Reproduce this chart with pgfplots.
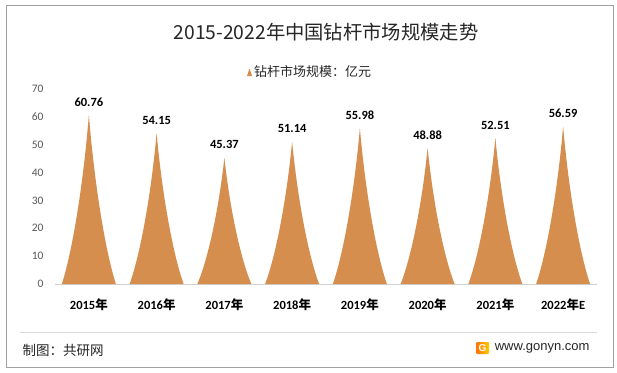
\documentclass[border=0pt]{standalone}
\usepackage{pgfplots}
\pgfplotsset{compat=1.18}
\usepackage{pgfplotstable}
\usepackage{fontspec}
\setmainfont{Carlito}
\newfontfamily\cjk{Noto Sans CJK SC}
\newfontfamily\lib{Liberation Sans}
\definecolor{barorange}{RGB}{214,142,79}
\definecolor{framegray}{RGB}{160,160,160}
\definecolor{ticktext}{RGB}{89,89,89}

\pgfplotstableread{
x y label
0 60.76 60.76
1 54.15 54.15
2 45.37 45.37
3 51.14 51.14
4 55.98 55.98
5 48.88 48.88
6 52.51 52.51
7 56.59 56.59
}\datatable

\pgfdeclareplotmark{spike}{%
  \pgfmathsetmacro\hh{\rawy*195/70}%
  \pgfmathsetmacro\ha{0.8*\hh}%
  \pgfmathsetmacro\hb{0.4*\hh}%
  \pgfpathmoveto{\pgfpoint{-27pt}{-\hh pt}}%
  \pgfpathcurveto{\pgfpoint{-16.2pt}{-\ha pt}}{\pgfpoint{-5.4pt}{-\hb pt}}{\pgfpoint{0pt}{0pt}}%
  \pgfpathcurveto{\pgfpoint{5.4pt}{-\hb pt}}{\pgfpoint{16.2pt}{-\ha pt}}{\pgfpoint{27pt}{-\hh pt}}%
  \pgfpathclose
  \pgfusepathqfill
}

\begin{document}
\begin{tikzpicture}
\useasboundingbox (0pt,0pt) rectangle (617pt,372pt);
\fill[white] (0pt,0pt) rectangle (617pt,372pt);
\draw[framegray, line width=0.8pt] (6pt,5pt) rectangle (613pt,367pt);

\node[font=\cjk\fontsize{19.3}{22}\selectfont, text=black!85] at (326pt,340pt) {2015-2022年中国钻杆市场规模走势};

\begin{axis}[
  at={(55pt,88pt)}, anchor=south west,
  scale only axis, width=542pt, height=195pt,
  xmin=-0.5, xmax=7.5, ymin=0, ymax=70,
  ytick={0,10,...,70},
  xtick={0,1,...,7},
  xticklabels={2015{\cjk 年},2016{\cjk 年},2017{\cjk 年},2018{\cjk 年},2019{\cjk 年},2020{\cjk 年},2021{\cjk 年},2022{\cjk 年}E},
  axis lines*=left,
  y axis line style={draw=none},
  x axis line style={draw=black!18, line width=0.9pt},
  major tick length=0pt,
  /pgf/number format/assume math mode=true,
  yticklabel style={font=\fontsize{11.5}{13}\selectfont, text=ticktext, xshift=-8pt},
  xticklabel style={font=\bfseries\fontsize{12.5}{14}\selectfont, text=black, yshift=-11pt},
  clip=false,
  legend style={at={(0.4705,1.087)}, anchor=center, draw=none, fill=none,
    font=\cjk\fontsize{13}{15}\selectfont, text=black!85,
    /tikz/every even column/.append style={column sep=0pt}},
  legend cell align=left,
]
\addplot[only marks, mark=spike, draw=none, fill=barorange,
  visualization depends on={\thisrow{y}\as\rawy},
  point meta=explicit symbolic,
  nodes near coords,
  every node near coord/.append style={font=\bfseries\fontsize{12.5}{14}\selectfont, text=black, anchor=south, yshift=5pt},
  legend image code/.code={\fill[barorange] (0pt,-4pt) -- (2.6pt,3.5pt) -- (5.2pt,-4pt) -- cycle;},
] table[x=x, y=y, meta=label] {\datatable};
\addlegendentry{钻杆市场规模：亿元}
\end{axis}

\draw[black!15, line width=0.8pt] (20pt,40pt) -- (597pt,40pt);
\node[anchor=west, font=\cjk\fontsize{13.5}{15}\selectfont, text=black!85] at (19pt,22pt) {制图：共研网};
\shade[left color=orange!90!red, right color=orange!40!yellow, rounded corners=1pt] (476pt,18pt) rectangle (489pt,30pt);
\node[font=\lib\bfseries\fontsize{10}{10}\selectfont, text=white, inner sep=0pt] at (482.5pt,24pt) {G};
\node[anchor=east, font=\lib\fontsize{13}{15}\selectfont, text=black!85] at (593pt,24pt) {www.gonyn.com};
\end{tikzpicture}
\end{document}
